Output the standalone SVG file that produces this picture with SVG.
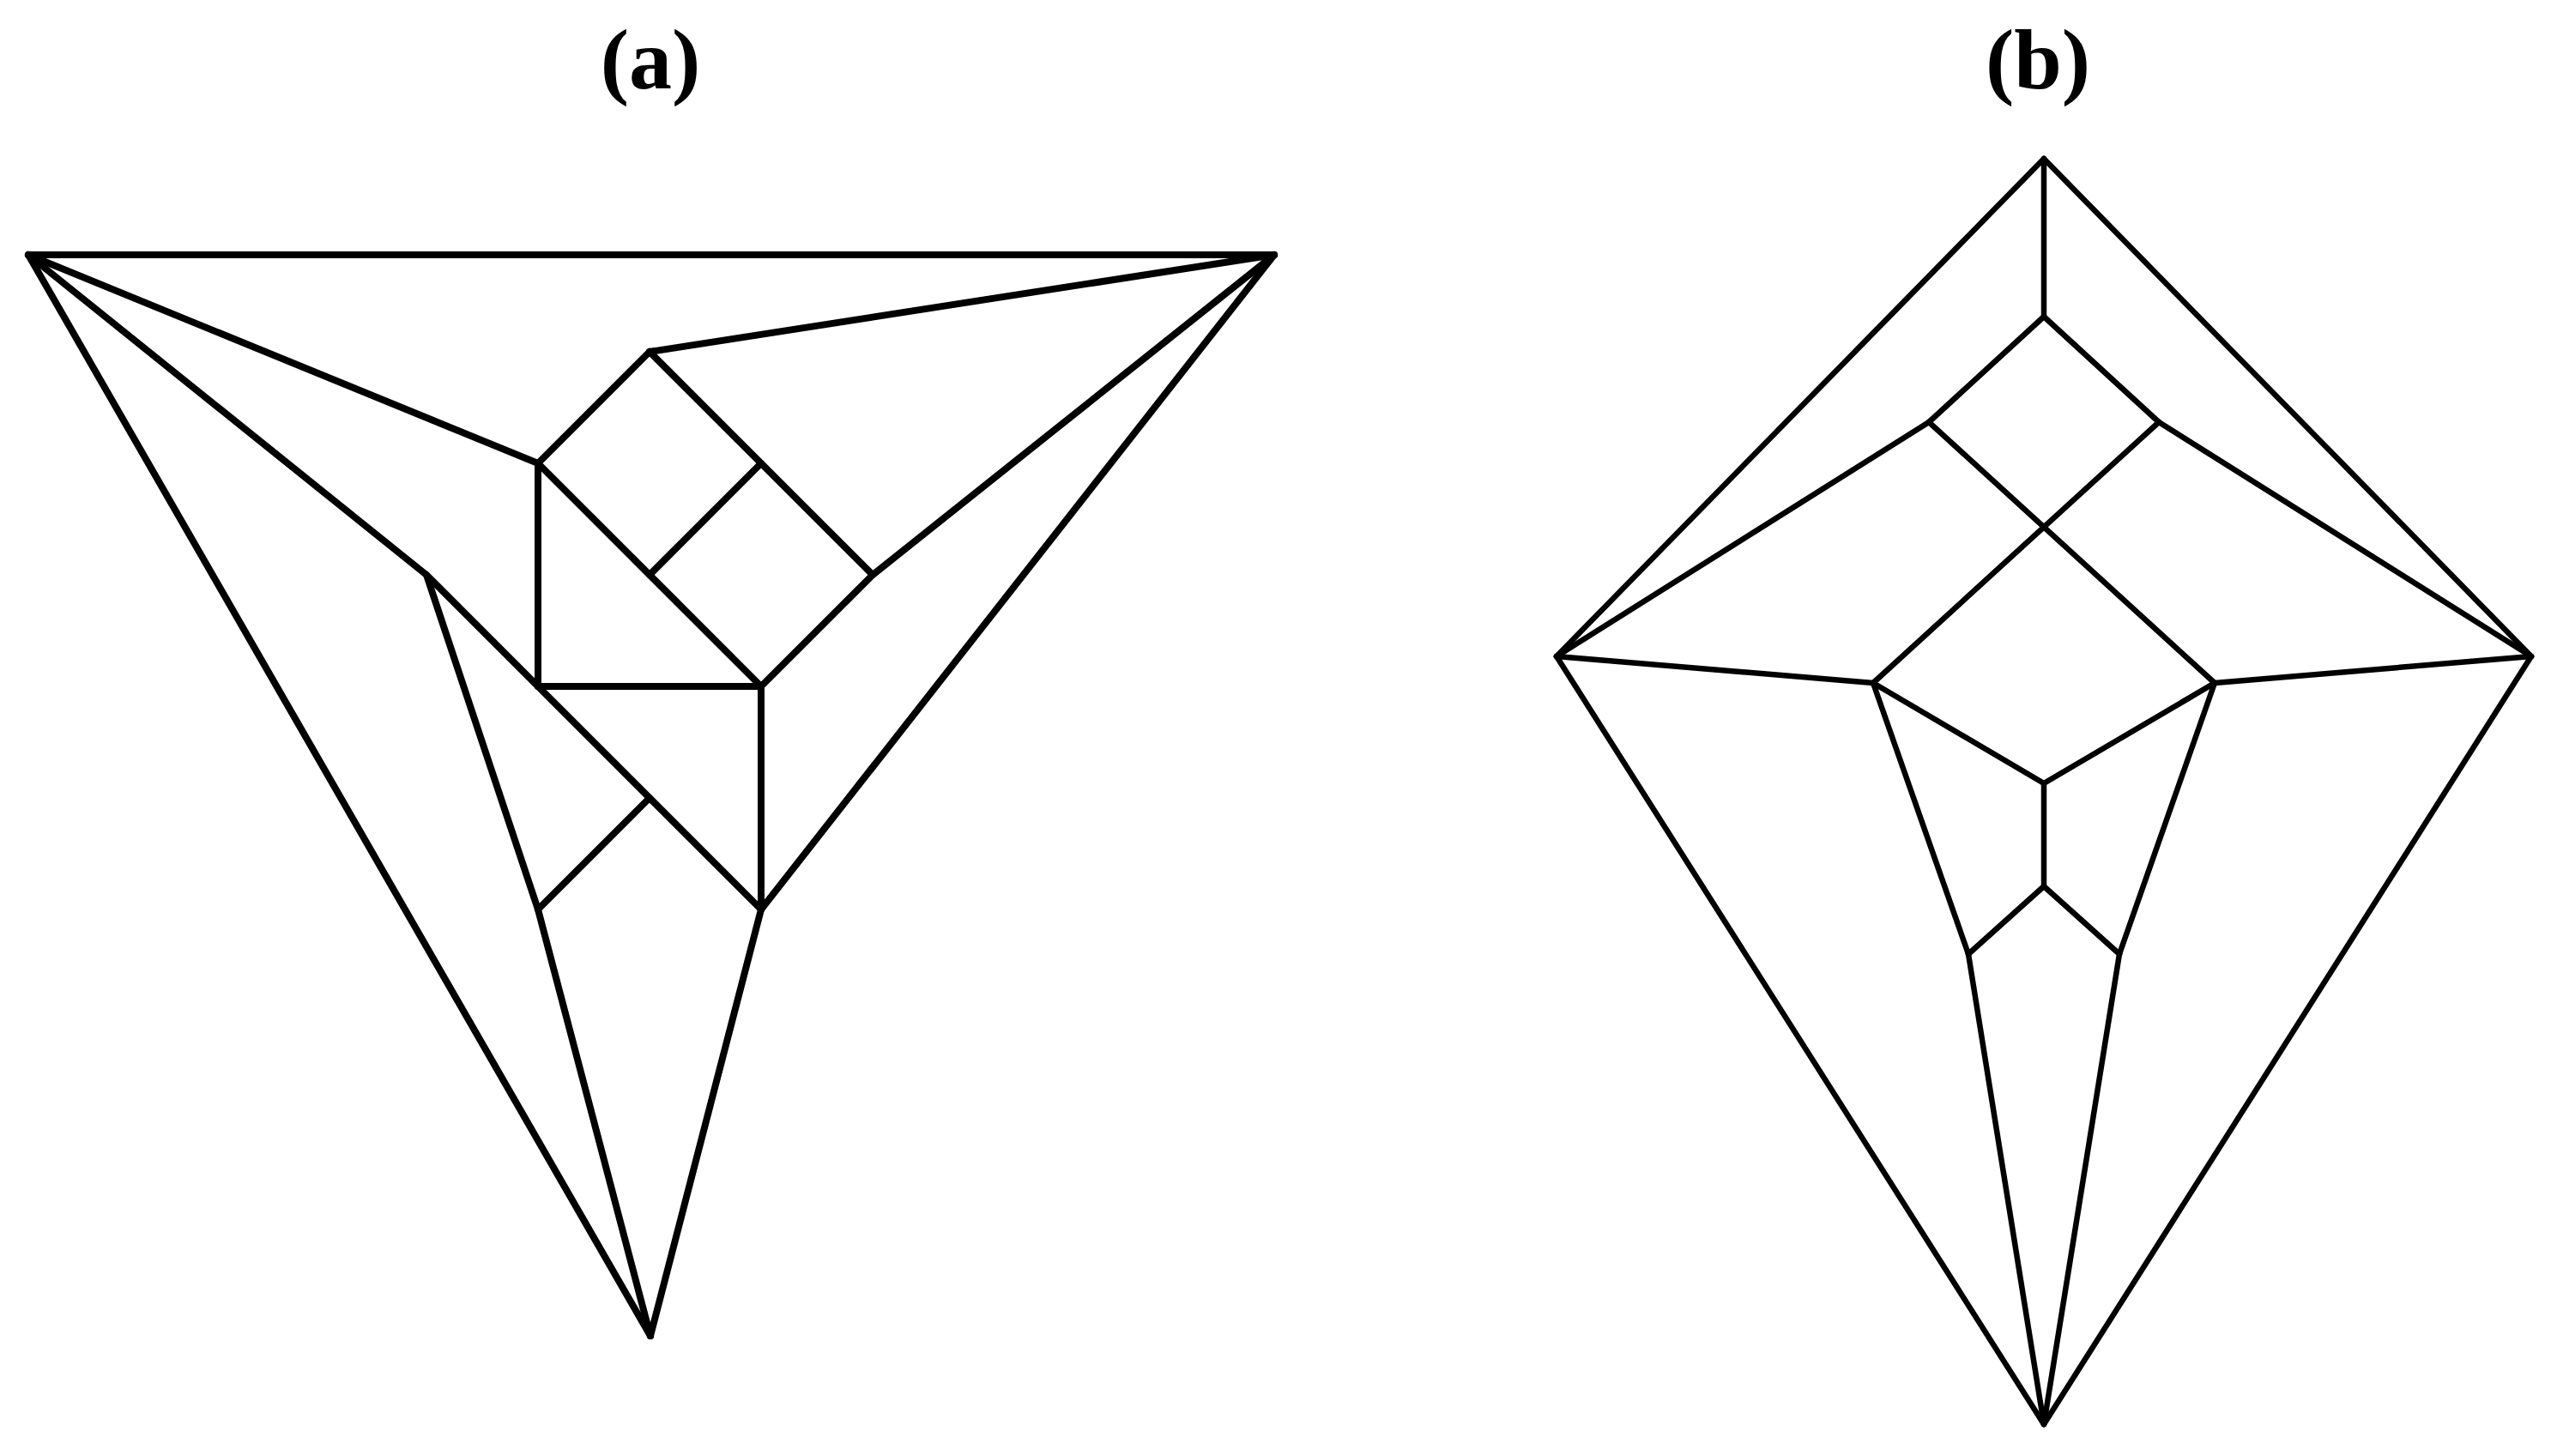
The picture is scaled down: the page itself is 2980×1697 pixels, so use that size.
<svg xmlns="http://www.w3.org/2000/svg" width="2980" height="1697" viewBox="0 0 2980 1697">
<style>
.bg{fill:#fff}
.t{font-family:"Liberation Serif","Times New Roman",serif;font-weight:bold;font-size:100px;fill:#000;text-anchor:middle}
.ea line{stroke:#000;stroke-width:8;stroke-linecap:round}
.eb line{stroke:#000;stroke-width:6.5;stroke-linecap:round}
</style>
<rect class="bg" x="0" y="0" width="2980" height="1697"/>
<g id="label-a"><text class="t" x="758" y="103">(a)</text></g>
<g id="label-b"><text class="t" x="2375" y="103">(b)</text></g>
<g id="connectors-a" class="ea">
<line x1="33" y1="297" x2="1485" y2="297"/>
<line x1="33" y1="297" x2="758" y2="1557"/>
<line x1="33" y1="297" x2="627" y2="540"/>
<line x1="33" y1="297" x2="497" y2="670"/>
<line x1="1485" y1="297" x2="757" y2="410"/>
<line x1="1485" y1="297" x2="1017" y2="670"/>
<line x1="1485" y1="297" x2="887" y2="1060"/>
<line x1="758" y1="1557" x2="627" y2="1060"/>
<line x1="758" y1="1557" x2="887" y2="1060"/>
<line x1="757" y1="410" x2="627" y2="540"/>
<line x1="757" y1="410" x2="1017" y2="670"/>
<line x1="887" y1="540" x2="757" y2="670"/>
<line x1="627" y1="540" x2="887" y2="800"/>
<line x1="627" y1="540" x2="627" y2="800"/>
<line x1="627" y1="800" x2="887" y2="800"/>
<line x1="1017" y1="670" x2="887" y2="800"/>
<line x1="887" y1="800" x2="887" y2="1060"/>
<line x1="497" y1="670" x2="887" y2="1060"/>
<line x1="497" y1="670" x2="627" y2="1060"/>
<line x1="757" y1="930" x2="627" y2="1060"/>
</g>
<g id="connectors-b" class="eb">
<line x1="2382" y1="185" x2="1814" y2="765"/>
<line x1="2382" y1="185" x2="2950" y2="765"/>
<line x1="2382" y1="185" x2="2382" y2="369"/>
<line x1="1814" y1="765" x2="2382" y2="1660"/>
<line x1="2950" y1="765" x2="2382" y2="1660"/>
<line x1="1814" y1="765" x2="2248" y2="492"/>
<line x1="2950" y1="765" x2="2516" y2="492"/>
<line x1="1814" y1="765" x2="2183" y2="796"/>
<line x1="2950" y1="765" x2="2581" y2="796"/>
<line x1="2382" y1="369" x2="2248" y2="492"/>
<line x1="2382" y1="369" x2="2516" y2="492"/>
<line x1="2248" y1="492" x2="2581" y2="796"/>
<line x1="2516" y1="492" x2="2183" y2="796"/>
<line x1="2183" y1="796" x2="2382" y2="913"/>
<line x1="2581" y1="796" x2="2382" y2="913"/>
<line x1="2382" y1="913" x2="2382" y2="1033"/>
<line x1="2382" y1="1033" x2="2294" y2="1112"/>
<line x1="2382" y1="1033" x2="2470" y2="1112"/>
<line x1="2183" y1="796" x2="2294" y2="1112"/>
<line x1="2581" y1="796" x2="2470" y2="1112"/>
<line x1="2294" y1="1112" x2="2382" y2="1660"/>
<line x1="2470" y1="1112" x2="2382" y2="1660"/>
</g>
<g id="nodes-a">
<g id="a-A"/><g id="a-B"/><g id="a-C"/>
</g>
</svg>
